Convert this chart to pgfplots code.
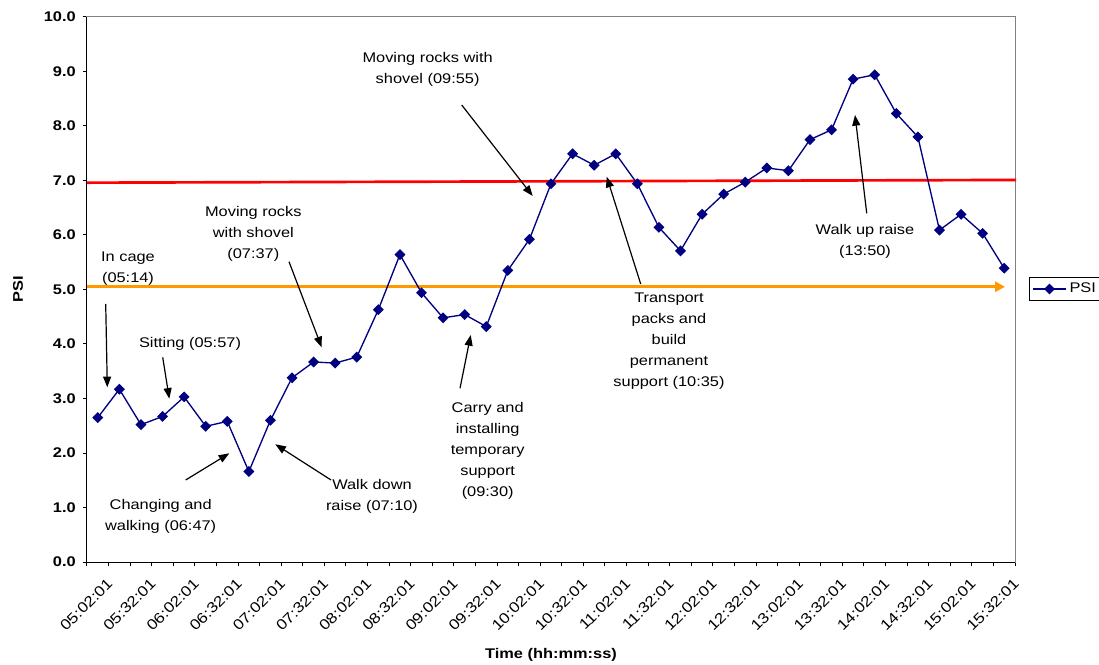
\documentclass[border=0pt]{standalone}
\usepackage{fontspec}
\setmainfont[FakeStretch=1.17]{Liberation Sans}
\usepackage{pgfplots}
\pgfplotsset{compat=1.18}
\usetikzlibrary{arrows.meta}
\definecolor{navy}{HTML}{000080}
\definecolor{psiorange}{HTML}{FF9900}
\newcommand{\annot}{\fontsize{10.5}{15.75}\selectfont}
\begin{document}
\begin{tikzpicture}
\begin{axis}[
  at={(65.25pt,76.5pt)}, anchor=south west,
  scale only axis, width=696pt, height=408.75pt,
  xmin=-0.5, xmax=42.5, ymin=0, ymax=10,
  clip=false,
  axis line style={draw=gray, line width=0.75pt},
  tick align=outside, tick pos=left,
  major tick length=0pt, minor tick length=3.3pt,
  tick style={black, line width=0.75pt},
  xtick={0,2,...,42},
  xticklabels={05:02:01,05:32:01,06:02:01,06:32:01,07:02:01,07:32:01,08:02:01,08:32:01,09:02:01,09:32:01,10:02:01,10:32:01,11:02:01,11:32:01,12:02:01,12:32:01,13:02:01,13:32:01,14:02:01,14:32:01,15:02:01,15:32:01},
  minor xtick={-0.5,0.5,...,42.5},
  ytick={0,1,...,10},
  minor ytick={0,1,...,10},
  /pgf/number format/assume math mode=true,
  yticklabel style={font=\bfseries\fontsize{10.5}{12}\selectfont, anchor=east, inner sep=0pt, xshift=-8.25pt,
    /pgf/number format/.cd, fixed, fixed zerofill, precision=1},
  xticklabel style={font=\fontsize{11}{12}\selectfont, rotate=45, anchor=east, inner sep=0pt, xshift=-3.5pt, yshift=-16.5pt},
  ylabel={PSI},
  ylabel style={at={(axis description cs:-0.0744,0.5)}, anchor=center, rotate=0, font=\bfseries\fontsize{10.5}{12}\selectfont},
  xlabel={Time (hh:mm:ss)},
  xlabel style={at={(axis description cs:0.5,-0.1706)}, anchor=center, font=\bfseries\fontsize{10.5}{12}\selectfont},
  legend style={at={(axis description cs:1.01509,0.5224)}, anchor=north west, draw=black, line width=0.75pt,
    font=\fontsize{10.5}{12}\selectfont, inner xsep=2pt, inner ysep=2pt},
  legend image code/.code={\draw[mark repeat=2,mark phase=2,#1] plot coordinates {(0pt,0pt) (12.5pt,0pt) (25pt,0pt)};},
]
\draw[red, line width=2pt] (axis cs:-0.5,6.96) -- (axis cs:42.55,7.01);
\draw[psiorange, line width=2.5pt, -{Triangle[length=7.5pt,width=7.5pt]}] (axis cs:-0.5,5.05) -- (axis cs:42.04,5.05);
\addplot[color=navy, line width=1pt, mark=square*, mark size=2.4pt, mark options={rotate=45, solid, fill=navy}] coordinates {
(0,2.65) (1,3.17) (2,2.52) (3,2.67) (4,3.03) (5,2.49) (6,2.58) (7,1.66) (8,2.60) (9,3.38)
(10,3.67) (11,3.65) (12,3.76) (13,4.63) (14,5.64) (15,4.94) (16,4.48) (17,4.54) (18,4.32) (19,5.35)
(20,5.92) (21,6.94) (22,7.49) (23,7.28) (24,7.49) (25,6.94) (26,6.14) (27,5.71) (28,6.38) (29,6.75)
(30,6.97) (31,7.23) (32,7.18) (33,7.75) (34,7.93) (35,8.86) (36,8.94) (37,8.23) (38,7.80) (39,6.09)
(40,6.38) (41,6.03) (42,5.39)};
\addlegendentry{PSI\hspace*{10pt}}
\tikzset{ann/.style={-{Triangle[length=8pt,width=6pt]}, black, line width=0.9pt}}
\node[align=center, font=\annot] at (axis cs:1.40,5.385) {In cage\\(05:14)};
\draw[ann] (axis cs:0.367,4.734) -- (axis cs:0.441,3.206);
\node[align=center, font=\annot] at (axis cs:4.273,4.0) {Sitting (05:57)};
\draw[ann] (axis cs:3.008,3.756) -- (axis cs:3.314,2.996);
\node[align=center, font=\annot] at (axis cs:2.915,0.831) {Changing and\\walking (06:47)};
\draw[ann] (axis cs:4.073,1.505) -- (axis cs:6.094,1.994);
\node[align=center, font=\annot] at (axis cs:12.706,1.198) {Walk down\\raise (07:10)};
\draw[ann] (axis cs:10.806,1.505) -- (axis cs:8.225,2.160);
\node[align=center, font=\annot] at (axis cs:7.206,6.013) {Moving rocks\\with shovel\\(07:37)};
\draw[ann] (axis cs:8.860,5.510) -- (axis cs:10.375,3.939);
\node[align=center, font=\annot] at (axis cs:15.283,9.046) {Moving rocks with\\shovel (09:55)};
\draw[ann] (axis cs:16.863,8.385) -- (axis cs:20.152,6.716);
\node[align=center, font=\annot] at (axis cs:18.067,2.031) {Carry and\\installing\\temporary\\support\\(09:30)};
\draw[ann] (axis cs:16.784,3.187) -- (axis cs:17.280,4.165);
\node[align=center, font=\annot] at (axis cs:26.468,4.055) {Transport\\packs and\\build\\permanent\\support (10:35)};
\draw[ann] (axis cs:25.157,5.101) -- (axis cs:23.581,7.070);
\node[align=center, font=\annot] at (axis cs:35.55,5.875) {Walk up raise\\(13:50)};
\draw[ann] (axis cs:35.63,6.398) -- (axis cs:35.087,8.202);
\draw[black, line width=0.75pt] (rel axis cs:0,1) -- (rel axis cs:0,0) -- (rel axis cs:1,0);
\end{axis}
\pgfresetboundingbox
\path[use as bounding box] (0,0) rectangle (824.25pt,498pt);
\end{tikzpicture}
\end{document}
